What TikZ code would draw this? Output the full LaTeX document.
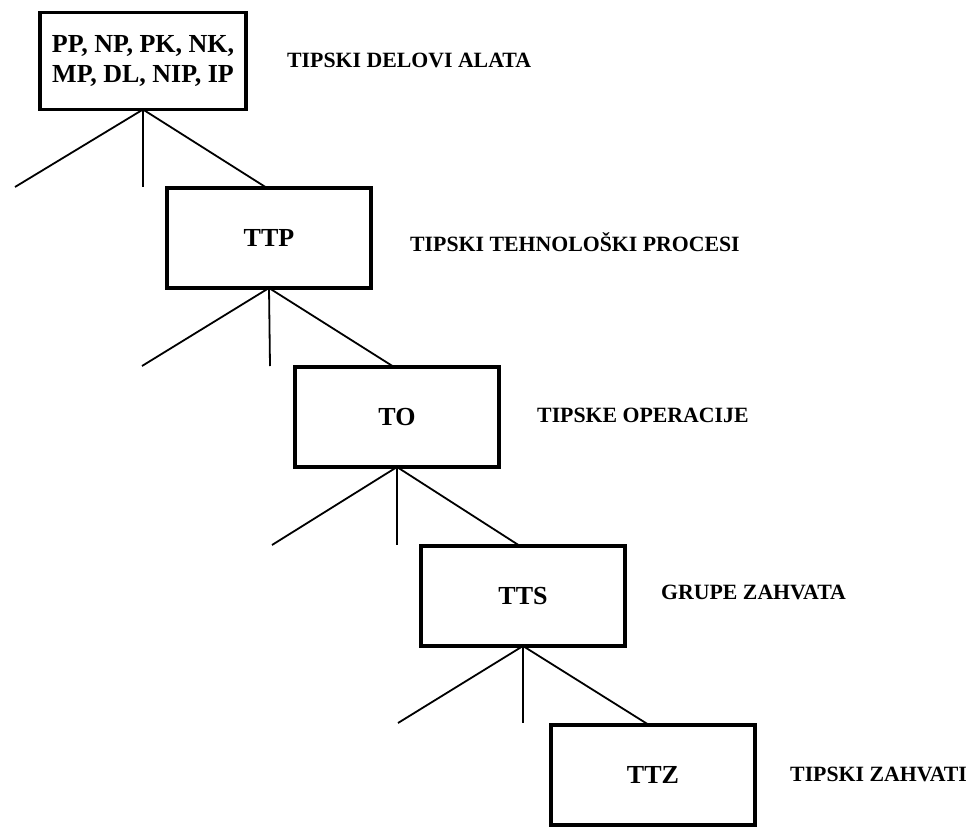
\documentclass[tikz,border=0pt]{standalone}
\usepackage{fontspec}
\setmainfont{Liberation Serif}
\usetikzlibrary{calc}
\begin{document}
\begin{tikzpicture}[x=1pt,y=-1pt,
  levelbox/.style={draw=black, line width=3.8pt, rectangle, outer sep=0pt, inner sep=0pt,
    minimum width=204pt, minimum height=100pt, font=\fontsize{26}{30}\selectfont\bfseries, align=center},
  levellabel/.style={anchor=west, inner sep=0pt, font=\fontsize{21.8}{25}\selectfont\bfseries},
  branch/.style={draw=black, line width=1.8pt}]
\useasboundingbox (0,0) rectangle (973,829);
% boxes
\node[levelbox, minimum width=206pt, minimum height=97pt] (b1) at (143,61) {PP, NP, PK, NK,\\MP, DL, NIP, IP};
\node[levelbox] (b2) at (269,238) {TTP};
\node[levelbox] (b3) at (397,417) {TO};
\node[levelbox] (b4) at (523,596) {TTS};
\node[levelbox] (b5) at (653,775) {TTZ};
% labels
\node[levellabel] (l1) at (287,60) {TIPSKI DELOVI ALATA};
\node[levellabel] (l2) at (410,242) {TIPSKI TEHNOLOŠKI PROCESI};
\node[levellabel] (l3) at (537,415) {TIPSKE OPERACIJE};
\node[levellabel] (l4) at (661,592) {GRUPE ZAHVATA};
\node[levellabel] (l5) at (790,774) {TIPSKI ZAHVATI};
% branch end points
\coordinate (e1l) at (15,187);   \coordinate (e1m) at (143,187);
\coordinate (e2l) at (142,366);  \coordinate (e2m) at (270,366);
\coordinate (e3l) at (272,545);  \coordinate (e3m) at (397,545);
\coordinate (e4l) at (398,723);  \coordinate (e4m) at (523,723);
% branches
\draw[branch] (b1.south) -- (e1l);
\draw[branch] (b1.south) -- (e1m);
\draw[branch] (b1.south) -- ($(b2.north west)+(100,0)$);
\draw[branch] (b2.south) -- (e2l);
\draw[branch] (b2.south) -- (e2m);
\draw[branch] (b2.south) -- ($(b3.north west)+(99,0)$);
\draw[branch] (b3.south) -- (e3l);
\draw[branch] (b3.south) -- (e3m);
\draw[branch] (b3.south) -- ($(b4.north west)+(99,0)$);
\draw[branch] (b4.south) -- (e4l);
\draw[branch] (b4.south) -- (e4m);
\draw[branch] (b4.south) -- ($(b5.north west)+(98,0)$);
\end{tikzpicture}
\end{document}
